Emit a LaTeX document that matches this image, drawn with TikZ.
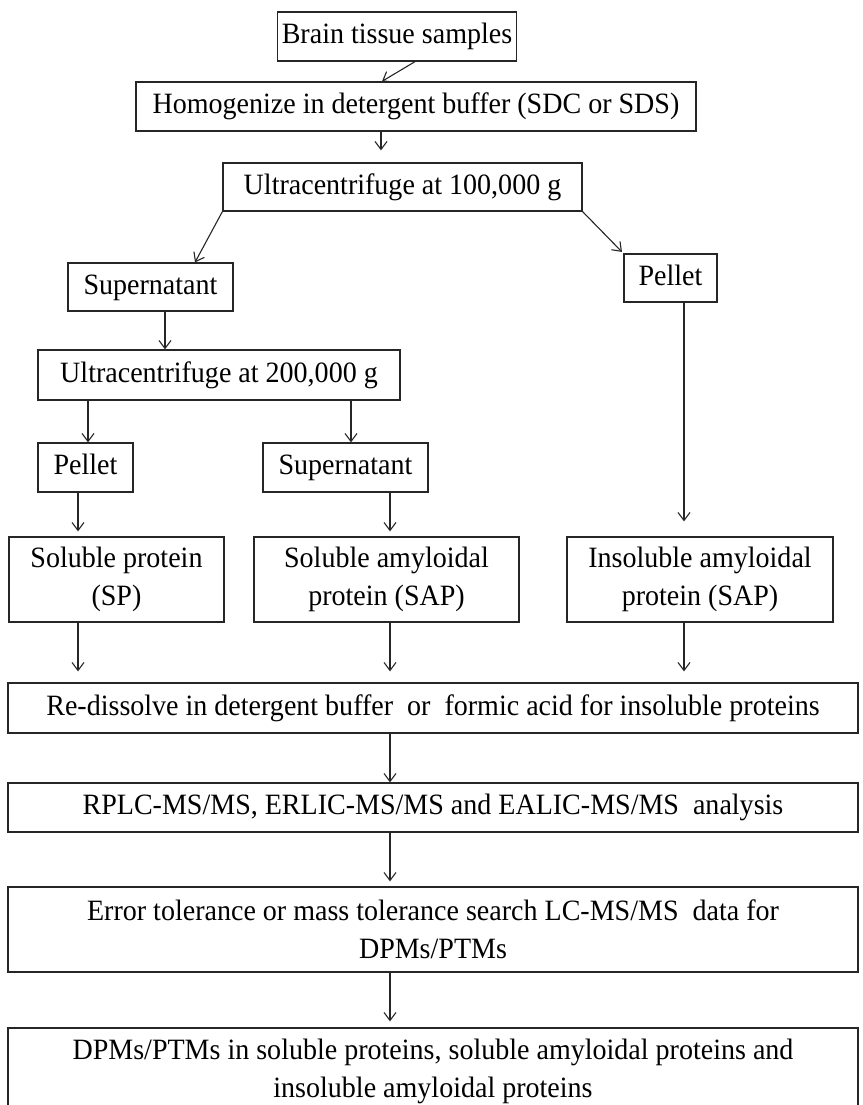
\documentclass[tikz,border=0pt]{standalone}
\usepackage{fontspec}
\setmainfont[FakeStretch=0.95]{Liberation Serif}
\usetikzlibrary{arrows.meta,calc}
\begin{document}
\begin{tikzpicture}[x=1pt,y=-1pt,
  box/.style={draw=black!85, line width=1.3pt, inner sep=0pt, align=center,
    font=\fontsize{29.5}{38}\selectfont},
  oneline/.style={text height=20pt, text depth=6pt},
  arr/.style={draw=black!85, line width=1.1pt, -{Straight Barb[length=8pt,width=12pt]}}]
\useasboundingbox (0,0) rectangle (862,1105);
\clip (0,0) rectangle (862,1105);
% nodes
\node[box, oneline, minimum width=239, minimum height=49] (brain) at (397,36.5) {Brain tissue samples};
\node[box, oneline, minimum width=560, minimum height=49] (homog) at (416,106.5) {Homogenize in detergent buffer (SDC or SDS)};
\node[box, oneline, minimum width=359, minimum height=48] (ultraA) at (402.5,187) {Ultracentrifuge at 100,000 g};
\node[box, oneline, minimum width=165, minimum height=48] (supL) at (150.5,287) {Supernatant};
\node[box, oneline, minimum width=93, minimum height=48] (pelR) at (670.5,278) {Pellet};
\node[box, oneline, minimum width=362, minimum height=50] (ultraB) at (219,375) {Ultracentrifuge at 200,000 g};
\node[box, oneline, minimum width=95, minimum height=49] (pelL) at (85.5,467.5) {Pellet};
\node[box, oneline, minimum width=165, minimum height=49] (supM) at (345.5,467.5) {Supernatant};
\node[box, minimum width=215, minimum height=85] (sp) at (116.5,579.5) {Soluble protein\\(SP)};
\node[box, minimum width=265, minimum height=85] (sap) at (386.5,579.5) {Soluble amyloidal\\protein (SAP)};
\node[box, minimum width=266, minimum height=85] (isap) at (700,579.5) {Insoluble amyloidal\\protein (SAP)};
\node[box, oneline, minimum width=850, minimum height=50] (redis) at (433,708) {Re-dissolve in detergent buffer\ \ or\ \ formic acid for insoluble proteins};
\node[box, oneline, minimum width=850, minimum height=49] (rplc) at (433,807.5) {RPLC-MS/MS, ERLIC-MS/MS and EALIC-MS/MS\ \ analysis};
\node[box, minimum width=850, minimum height=85] (err) at (433,929.5) {Error tolerance or mass tolerance search LC-MS/MS\ \ data for\\DPMs/PTMs};
\node[box, minimum width=850, minimum height=87] (final) at (433,1071.5) {DPMs/PTMs in soluble proteins, soluble amyloidal proteins and\\insoluble amyloidal proteins};
% connectors
\draw[arr] (brain.south -| 415,0) -- (homog.north -| 382,0);
\draw[arr, shorten >=12pt] (homog.south -| 381,0) -- (ultraA.north -| 381,0);
\draw[arr] (ultraA.south west) -- (supL.north -| 195,0);
\draw[arr, shorten >=2pt] (ultraA.south east) -- (pelR.north west);
\draw[arr] (supL.south -| 165,0) -- (ultraB.north -| 165,0);
\draw[arr] (ultraB.south -| 88,0) -- (pelL.north -| 88,0);
\draw[arr] (ultraB.south -| 351,0) -- (supM.north -| 351,0);
\draw[arr, shorten >=15pt] (pelR.south -| 684,0) -- (isap.north -| 684,0);
\draw[arr, shorten >=5pt] (pelL.south -| 78,0) -- (sp.north -| 78,0);
\draw[arr, shorten >=5pt] (supM.south -| 390,0) -- (sap.north -| 390,0);
\draw[arr, shorten >=11pt] (sp.south -| 78,0) -- (redis.north -| 78,0);
\draw[arr, shorten >=11pt] (sap.south -| 390,0) -- (redis.north -| 390,0);
\draw[arr, shorten >=11pt] (isap.south -| 684,0) -- (redis.north -| 684,0);
\draw[arr] (redis.south -| 390,0) -- (rplc.north -| 390,0);
\draw[arr, shorten >=5pt] (rplc.south -| 390,0) -- (err.north -| 390,0);
\draw[arr, shorten >=6pt] (err.south -| 390,0) -- (final.north -| 390,0);
\end{tikzpicture}
\end{document}
